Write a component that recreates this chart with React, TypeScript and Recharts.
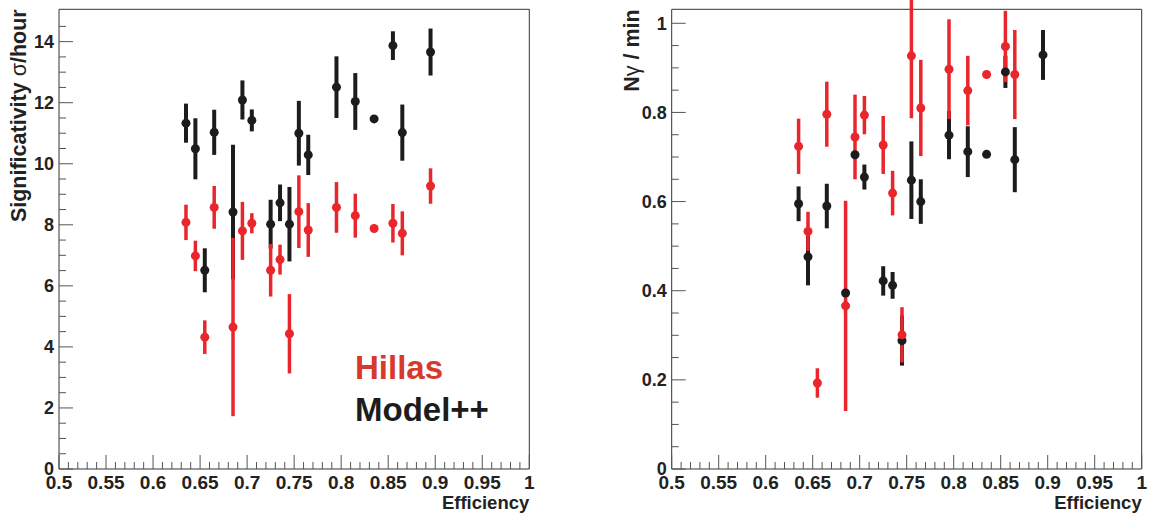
import { ScatterChart, Scatter, XAxis, YAxis, ErrorBar, ReferenceArea, Label } from 'recharts';

// left panel: significativity (sigma/hour) vs efficiency
const effSignif = [0.635, 0.645, 0.655, 0.665, 0.685, 0.695, 0.705, 0.725, 0.735, 0.745, 0.755, 0.765, 0.795, 0.815, 0.835, 0.855, 0.865, 0.895];
const signifModel = [11.33, 10.49, 6.51, 11.03, 8.42, 12.09, 11.42, 8.02, 8.72, 8.02, 11.0, 10.29, 12.51, 12.04, 11.47, 13.87, 11.02, 13.66];
const signifModelErr = [0.64, 1.0, 0.72, 0.74, 2.2, 0.64, 0.36, 0.8, 0.6, 1.22, 1.06, 0.66, 1.01, 0.93, 0.05, 0.47, 0.92, 0.77];
const signifHillas = [8.08, 6.98, 4.32, 8.57, 4.65, 7.8, 8.05, 6.51, 6.86, 4.43, 8.43, 7.83, 8.57, 8.3, 7.88, 8.05, 7.72, 9.27];
const signifHillasErr = [0.58, 0.5, 0.55, 0.7, 2.92, 0.95, 0.33, 0.86, 0.49, 1.3, 1.19, 0.88, 0.83, 0.72, 0.05, 0.63, 0.72, 0.58];

// right panel: gamma rate (N gamma / min) vs efficiency
const effRateModel = [0.635, 0.645, 0.665, 0.685, 0.695, 0.705, 0.725, 0.735, 0.745, 0.755, 0.765, 0.795, 0.815, 0.835, 0.855, 0.865, 0.895];
const rateModel = [0.595, 0.476, 0.59, 0.395, 0.705, 0.655, 0.422, 0.412, 0.288, 0.648, 0.6, 0.749, 0.712, 0.706, 0.891, 0.694, 0.929];
const rateModelErr = [0.039, 0.064, 0.05, 0.008, 0.008, 0.028, 0.033, 0.03, 0.056, 0.087, 0.05, 0.054, 0.057, 0.005, 0.036, 0.073, 0.056];
const effRateHillas = [0.635, 0.645, 0.655, 0.665, 0.685, 0.695, 0.705, 0.725, 0.735, 0.745, 0.755, 0.765, 0.795, 0.815, 0.835, 0.855, 0.865];
const rateHillas = [0.724, 0.533, 0.193, 0.796, 0.366, 0.745, 0.794, 0.727, 0.619, 0.301, 0.927, 0.81, 0.897, 0.849, 0.885, 0.948, 0.885];
const rateHillasErr = [0.062, 0.044, 0.033, 0.073, 0.236, 0.095, 0.043, 0.065, 0.05, 0.062, 0.14, 0.108, 0.112, 0.078, 0.005, 0.08, 0.1];

// axis labels
const effMajorTicks = [0.5, 0.55, 0.6, 0.65, 0.7, 0.75, 0.8, 0.85, 0.9, 0.95, 1];
const signifMajorTicks = [0, 2, 4, 6, 8, 10, 12, 14];
const rateMajorTicks = [0, 0.2, 0.4, 0.6, 0.8, 1];

const seriesNames = ['Hillas', 'Model++'];

const RED = '#e8262b';
const BLACK = '#1c1c1c';
const HILLAS_TEXT = '#d63a2e';
const AXIS = '#555';
const FONT = '"Liberation Sans", Arial, sans-serif';

const toPoints = (xs: number[], ys: number[], errs: number[]) =>
  xs.map((x, i) => ({ x, y: ys[i], err: errs[i] }));

// ROOT style: minor ticks between the labelled ones
function withMinor(majors: number[], n: number, upper: number) {
  const step = (majors[1] - majors[0]) / n;
  const out: number[] = [];
  for (let i = 0; majors[0] + i * step <= upper + 1e-9; i++) out.push(Number((majors[0] + i * step).toFixed(4)));
  return out;
}

const isMajor = (majors: number[], v: number) => majors.some((m) => Math.abs(m - v) < 1e-6);
const fmt = (v: number) => String(parseFloat(v.toFixed(2)));

const xTick = (majors: number[]) => (props: any) => {
  const { x, y, payload } = props;
  const major = isMajor(majors, payload.value);
  return (
    <g>
      <line x1={x} x2={x} y1={y} y2={y - (major ? 14 : 7)} stroke={AXIS} />
      {major && (
        <text x={x} y={y + 19.5} textAnchor="middle" fontSize={19} fontWeight="bold" fontFamily={FONT} fill="#222">
          {fmt(payload.value)}
        </text>
      )}
    </g>
  );
};

const yTick = (majors: number[]) => (props: any) => {
  const { x, y, payload } = props;
  const major = isMajor(majors, payload.value);
  return (
    <g>
      <line x1={x} x2={x + (major ? 14 : 7)} y1={y} y2={y} stroke={AXIS} />
      {major && (
        <text x={x - 5} y={y} dy="0.36em" textAnchor="end" fontSize={18} fontWeight="bold" fontFamily={FONT} fill="#222">
          {fmt(payload.value)}
        </text>
      )}
    </g>
  );
};

const dot = (color: string) => (props: any) => <circle cx={props.cx} cy={props.cy} r={4.5} fill={color} />;

interface PanelProps {
  width: number;
  margin: { top: number; right: number; bottom: number; left: number };
  yMax: number;
  yMajors: number[];
  yUpper: number;
  yTitle: string;
  ySymbol: string;
  yTitleRest: string;
  model: { x: number; y: number; err: number }[];
  hillas: { x: number; y: number; err: number }[];
}

function Panel({ width, margin, yMax, yMajors, yUpper, yTitle, ySymbol, yTitleRest, model, hillas }: PanelProps) {
  return (
    <ScatterChart width={width} height={518} margin={margin}>
      <XAxis
        type="number"
        dataKey="x"
        domain={[0.5, 1]}
        ticks={withMinor(effMajorTicks, 5, 1)}
        interval={0}
        allowDataOverflow
        axisLine={false}
        tickLine={false}
        tickSize={0}
        tickMargin={0}
        height={40}
        tick={xTick(effMajorTicks)}
      >
        <Label
          content={(p: any) => (
            <text
              x={p.viewBox.x + p.viewBox.width}
              y={p.viewBox.y + 39.5}
              textAnchor="end"
              fontSize={18.5}
              fontWeight="bold"
              fontFamily={FONT}
              fill="#222"
            >
              Efficiency
            </text>
          )}
        />
      </XAxis>
      <YAxis
        type="number"
        dataKey="y"
        domain={[0, yMax]}
        ticks={withMinor(yMajors, 4, yUpper)}
        interval={0}
        allowDataOverflow
        axisLine={false}
        tickLine={false}
        tickSize={0}
        tickMargin={0}
        width={50}
        tick={yTick(yMajors)}
      >
        <Label
          content={(p: any) => {
            const tx = p.viewBox.x + p.viewBox.width - 33;
            const ty = p.viewBox.y;
            return (
              <text
                x={tx}
                y={ty}
                transform={`rotate(-90, ${tx}, ${ty})`}
                textAnchor="end"
                fontSize={21.5}
                fontWeight="bold"
                fontFamily={FONT}
                fill="#222"
              >
                {yTitle}
                <tspan fontWeight="normal">{ySymbol}</tspan>
                {yTitleRest}
              </text>
            );
          }}
        />
      </YAxis>
      <ReferenceArea x1={0.5} x2={1} y1={0} y2={yMax} fill="none" stroke="#333" strokeWidth={1} />
      <Scatter name={seriesNames[1]} data={model} shape={dot(BLACK)} fill={BLACK} isAnimationActive={false}>
        <ErrorBar dataKey="err" direction="y" width={0} stroke={BLACK} strokeWidth={4} isAnimationActive={false} />
      </Scatter>
      <Scatter name={seriesNames[0]} data={hillas} shape={dot(RED)} fill={RED} isAnimationActive={false}>
        <ErrorBar dataKey="err" direction="y" width={0} stroke={RED} strokeWidth={3.5} isAnimationActive={false} />
      </Scatter>
    </ScatterChart>
  );
}

export default function App() {
  return (
    <div style={{ position: 'absolute', left: 0, top: 0, width: 1149, height: 518, background: '#fff' }}>
      <div style={{ position: 'absolute', left: 0, top: 0 }}>
        <Panel
          width={560}
          margin={{ top: 9.3, right: 30.7, bottom: 9, left: 9 }}
          yMax={15.06}
          yMajors={signifMajorTicks}
          yUpper={14.9}
          yTitle="Significativity "
          ySymbol="σ"
          yTitleRest="/hour"
          model={toPoints(effSignif, signifModel, signifModelErr)}
          hillas={toPoints(effSignif, signifHillas, signifHillasErr)}
        />
      </div>
      <div style={{ position: 'absolute', left: 580, top: 0 }}>
        <Panel
          width={569}
          margin={{ top: 9.3, right: 7.3, bottom: 9, left: 41.7 }}
          yMax={1.0314}
          yMajors={rateMajorTicks}
          yUpper={1.0}
          yTitle="N"
          ySymbol="γ"
          yTitleRest=" / min"
          model={toPoints(effRateModel, rateModel, rateModelErr)}
          hillas={toPoints(effRateHillas, rateHillas, rateHillasErr)}
        />
      </div>
      <div
        style={{
          position: 'absolute',
          left: 355,
          top: 347,
          fontFamily: FONT,
          fontWeight: 'bold',
          fontSize: 33,
          lineHeight: '42.4px',
        }}
      >
        <div style={{ color: HILLAS_TEXT }}>{seriesNames[0]}</div>
        <div style={{ color: BLACK }}>{seriesNames[1]}</div>
      </div>
    </div>
  );
}
